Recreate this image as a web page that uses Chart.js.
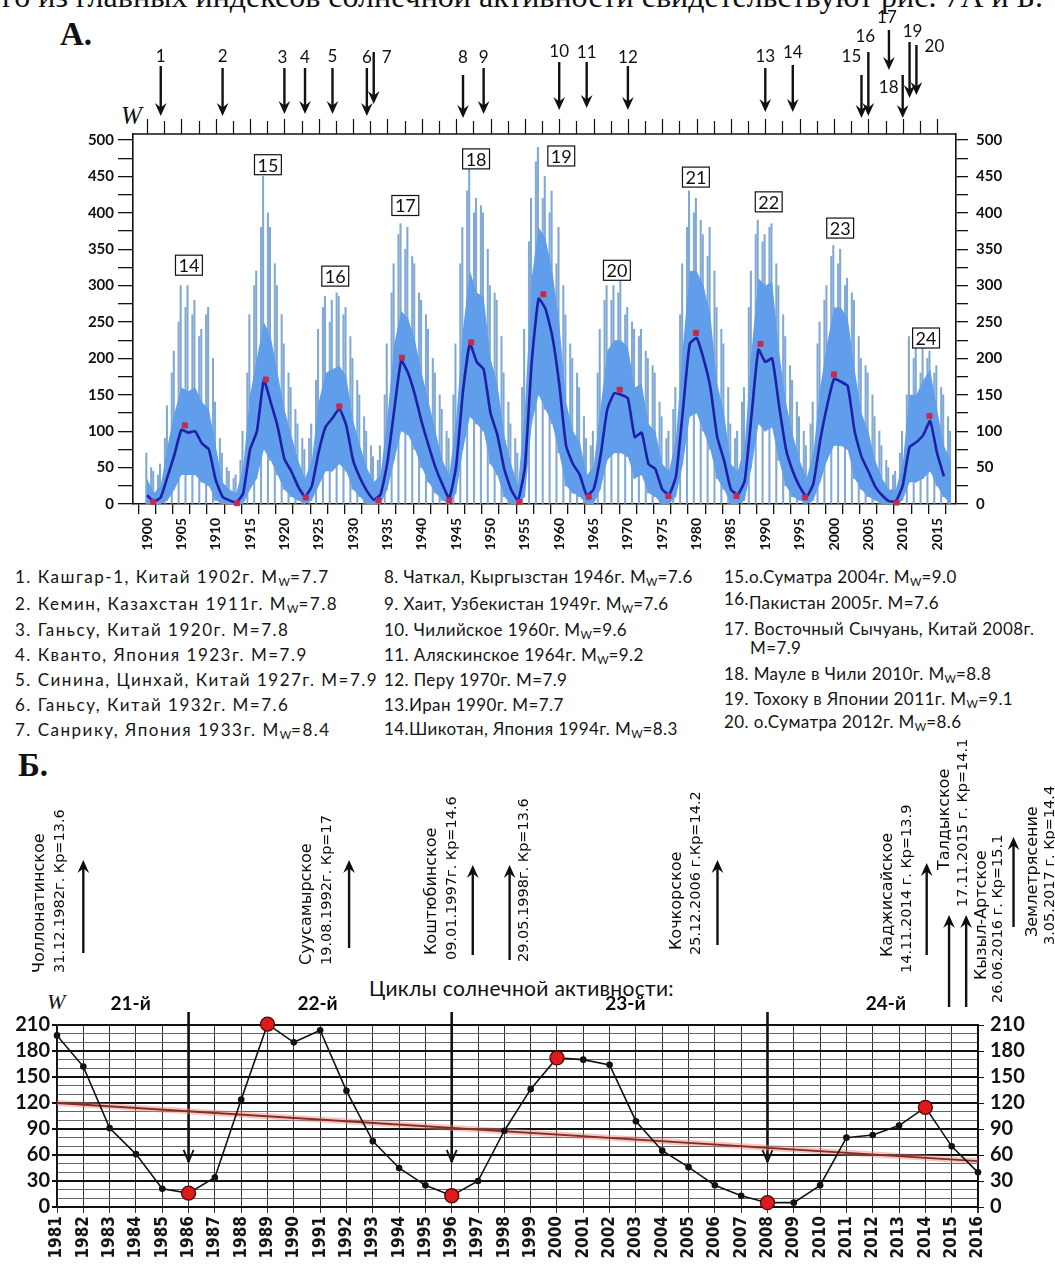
<!DOCTYPE html>
<html>
<head>
<meta charset="utf-8">
<script src="https://cdn.jsdelivr.net/npm/chart.js@4.4.0/dist/chart.umd.min.js"></script>
<style>
  body { margin: 0; background: #fff; }
  #page { position: relative; width: 1055px; height: 1264px; overflow: hidden; background: #fff; color: #111; }
  canvas { position: absolute; left: 0; }
  .txt { position: absolute; white-space: nowrap; }
  .serif { font-family: "Liberation Serif", "DejaVu Serif", serif; }
  .lg { position: absolute; white-space: nowrap; font-family: Lato, sans-serif; font-size: 17px; line-height: 22px; letter-spacing: 0.4px; color: #151515; }
  .lg.wide { letter-spacing: 1.5px; }
  .lg sub { font-size: 11px; vertical-align: -3px; line-height: 0; letter-spacing: 0; }
</style>
</head>
<body>
<div id="page">
  <div class="txt serif" style="left:2px; top:-22px; font-size:32px;">го из главных индексов солнечной активности свидетельствуют рис. 7А и Б.</div>
  <div class="txt serif" style="left:60px; top:16px; font-size:33px; font-weight:bold;">А.</div>
  <div class="txt serif" style="left:121px; top:102px; font-size:25px; font-style:italic;">W</div>
  <canvas id="chartA" width="1055" height="560" style="top:0"></canvas>
  <div id="legendA"></div>
  <div class="txt serif" style="left:18px; top:747px; font-size:33px; font-weight:bold;">Б.</div>
  <div class="txt serif" style="left:47px; top:989px; font-size:22px; font-style:italic;">W</div>
  <div class="txt" style="left:369px; top:975px; font-family:Lato, sans-serif; font-size:21px; letter-spacing:0.3px;">Циклы солнечной активности:</div>
  <canvas id="chartB" width="1055" height="524" style="top:740px"></canvas>
</div>
<script>
// ---------- panel A: sunspot number W, 1900-2017 ----------
const firstYearA = 1900
// smoothed W (dark blue line), one value per year
const smoothedW = [
  12, 3.5, 9, 38, 68, 102, 98, 100, 83, 75,
  33, 10, 5, 2, 15, 75, 100, 170, 140, 107,
  62, 45, 24, 10, 25, 72, 106, 118, 131, 108,
  60, 36, 18, 6, 13, 58, 130, 197, 180, 150,
  112, 80, 50, 27, 8, 52, 155, 220, 195, 185,
  125, 95, 48, 20, 5, 50, 195, 282, 268, 230,
  165, 80, 55, 40, 12, 20, 65, 130, 152, 150,
  145, 92, 98, 55, 48, 20, 13, 38, 128, 220,
  228, 200, 160, 92, 60, 20, 13, 32, 122, 212,
  195, 200, 135, 76, 45, 24, 10, 28, 88, 135,
  172, 168, 162, 100, 65, 45, 24, 12, 4, 4,
  25, 78, 85, 95, 114, 70, 38, null]
// lower and upper edge of the dense light-blue band
const bandLow = [
  0, 0, 0, 5, 20, 40, 40, 40, 30, 25,
  5, 0, 0, 0, 0, 20, 35, 75, 60, 40,
  20, 10, 5, 0, 5, 25, 45, 45, 55, 45,
  20, 10, 0, 0, 0, 20, 60, 100, 95, 75,
  50, 30, 15, 5, 0, 15, 75, 120, 110, 100,
  55, 40, 10, 0, 0, 10, 110, 150, 130, 110,
  70, 25, 15, 10, 0, 0, 20, 60, 70, 70,
  65, 35, 40, 15, 10, 0, 0, 10, 55, 120,
  125, 100, 75, 35, 20, 0, 0, 5, 50, 110,
  100, 105, 60, 25, 10, 5, 0, 5, 30, 60,
  80, 80, 75, 35, 20, 10, 5, 0, 0, 0,
  5, 30, 30, 35, 45, 25, 10, 0]
const bandHigh = [
  35, 15, 25, 80, 125, 160, 155, 160, 140, 130,
  80, 30, 20, 15, 50, 150, 200, 250, 230, 180,
  130, 95, 60, 35, 60, 140, 180, 185, 190, 175,
  115, 80, 50, 30, 40, 120, 220, 265, 255, 225,
  180, 140, 100, 60, 40, 115, 240, 320, 290, 285,
  200, 165, 95, 55, 25, 130, 310, 380, 365, 320,
  250, 140, 100, 85, 40, 50, 130, 210, 225, 225,
  215, 160, 165, 110, 100, 55, 45, 90, 215, 320,
  320, 300, 260, 165, 125, 55, 45, 80, 210, 310,
  300, 305, 210, 140, 95, 60, 35, 70, 160, 220,
  270, 270, 255, 185, 125, 100, 60, 35, 20, 20,
  55, 150, 150, 170, 185, 130, 80, 60]
// tallest spikes in the first half of each year
const spikeHigh = [
  70, 45, 55, 135, 210, 300, 300, 280, 240, 270,
  140, 70, 45, 40, 100, 260, 320, 450, 380, 300,
  220, 160, 110, 75, 110, 240, 285, 280, 285, 270,
  200, 150, 100, 65, 80, 220, 330, 385, 380, 330,
  280, 240, 180, 130, 90, 220, 380, 460, 420, 400,
  300, 280, 180, 110, 70, 240, 420, 490, 450, 430,
  380, 260, 200, 160, 90, 100, 240, 300, 300, 310,
  270, 240, 240, 200, 180, 120, 100, 160, 330, 430,
  420, 370, 380, 270, 220, 110, 100, 160, 320, 390,
  370, 385, 300, 230, 170, 120, 80, 140, 250, 300,
  355, 350, 310, 280, 200, 180, 120, 80, 50, 45,
  100, 230, 220, 230, 210, 190, 150, 100]
// tallest spikes in the second half of each year
const spikeLate = [
  50, 40, 90, 180, 250, 270, 260, 230, 260, 200,
  90, 50, 35, 60, 180, 300, 380, 400, 330, 260,
  180, 130, 90, 90, 170, 270, 250, 290, 260, 230,
  170, 120, 80, 60, 150, 290, 370, 350, 340, 290,
  260, 200, 150, 100, 150, 330, 430, 400, 410, 350,
  290, 230, 140, 90, 160, 360, 470, 420, 400, 330,
  300, 220, 180, 120, 80, 180, 280, 280, 290, 260,
  250, 230, 210, 190, 140, 90, 130, 260, 380, 400,
  390, 340, 320, 240, 160, 90, 140, 270, 370, 360,
  380, 330, 260, 190, 140, 100, 110, 220, 280, 340,
  330, 300, 290, 230, 190, 150, 100, 60, 40, 70,
  150, 200, 180, 200, 180, 160, 120, null]
// red squares: cycle minima and maxima
const extremaYears = [1900.9, 1905.5, 1913.1, 1917.3, 1923.1, 1928.0, 1933.7, 1937.1, 1944.0, 1947.2,
  1954.2, 1957.7, 1964.3, 1968.8, 1975.9, 1979.9, 1985.8, 1989.3, 1995.8, 2000.0, 2009.1, 2013.9]
const extremaW = [3, 108, 1, 171, 9, 134, 5, 201, 5, 222, 3, 288, 10, 157, 11, 235, 11, 220, 9, 178, 2, 121]
// cycle numbers and where their boxes sit
const cycleNumbers = ['14', '15', '16', '17', '18', '19', '20', '21', '22', '23', '24']
const cycleBoxYear = [1906.1, 1917.6, 1927.4, 1937.6, 1947.9, 1960.3, 1968.4, 1979.9, 1990.5, 2000.9, 2013.4]
const cycleBoxW = [328, 466, 313, 410, 474, 478, 321, 449, 415, 379, 228]
// earthquakes 1-20
const quakeYears = [1902, 1911, 1920, 1923, 1927, 1932, 1933, 1946, 1949, 1960,
  1964, 1970, 1990, 1994, 2004, 2005, 2008, 2010, 2011, 2012]
const quakeText = [
  '1. Кашгар-1, Китай 1902г. M_W=7.7', '2. Кемин, Казахстан 1911г. M_W=7.8', '3. Ганьсу, Китай 1920г. M=7.8',
  '4. Кванто, Япония 1923г. M=7.9', '5. Синина, Цинхай, Китай 1927г. M=7.9', '6.  Ганьсу, Китай 1932г. M=7.6',
  '7.  Санрику, Япония 1933г. M_W=8.4', '8. Чаткал, Кыргызстан 1946г. M_W=7.6', '9. Хаит, Узбекистан 1949г. M_W=7.6',
  '10. Чилийское 1960г. M_W=9.6', '11. Аляскинское 1964г. M_W=9.2', '12. Перу 1970г. M=7.9',
  '13.Иран 1990г. M=7.7', '14.Шикотан, Япония 1994г. M_W=8.3', '15.о.Суматра 2004г. M_W=9.0',
  '16.Пакистан 2005г. M=7.6', '17. Восточный Сычуань, Китай 2008г.|M=7.9', '18.  Мауле в Чили 2010г. M_W=8.8',
  '19.  Тохоку в Японии 2011г. M_W=9.1', '20.  о.Суматра 2012г. M_W=8.6']

// ---------- panel B: yearly W, 1981-2016 ----------
const yearsB = [1981, 1982, 1983, 1984, 1985, 1986, 1987, 1988, 1989, 1990, 1991, 1992,
  1993, 1994, 1995, 1996, 1997, 1998, 1999, 2000, 2001, 2002, 2003, 2004,
  2005, 2006, 2007, 2008, 2009, 2010, 2011, 2012, 2013, 2014, 2015, 2016]
const wolfB = [198, 162, 91, 61, 21, 16, 34, 124, 211, 190, 204, 134,
  76, 45, 25, 13, 30, 88, 136, 172, 170, 164, 99, 65,
  46, 25, 13, 5, 5, 25, 80, 83, 94, 115, 70, 40]
const extremaYearsB = [1986, 1989, 1996, 2000, 2008, 2014]
const trendYears = [1981, 2016]
const trendW = [120, 53]
const cycleBoundaryYears = [1986, 1996, 2008]
const cycleNamesB = ['21-й', '22-й', '23-й', '24-й']
const cycleNameYearB = [1983.8, 1990.9, 2002.6, 2012.5]
const eventYearB = [1982, 1992.1, 1996.8, 1998.2, 2006.1, 2014.05, 2014.9, 2015.55, 2017.35]
const eventNames = ['Чоллонатинское', 'Суусамырское', 'Коштюбинское', '', 'Кочкорское',
  'Каджисайское', 'Талдыкское', 'Кызыл-Артское', 'Землетрясение']
const eventDates = ['31.12.1982г. Кр=13.6', '19.08.1992г. Кр=17', '09.01.1997г. Кр=14.6', '29.05.1998г. Кр=13.6',
  '25.12.2006 г.Кр=14.2', '14.11.2014 г. Кр=13.9', '17.11.2015 г. Кр=14.1', '26.06.2016 г. Кр=15.1', '3.05.2017 г. Кр=14.4']

// ---------- layout (page pixels) ----------
// quake arrows: [label dx, label y, arrow top, arrow tip]
const quakeArrowLayout = [
  [0, 57, 66, 116], [0, 57, 68, 116], [-2, 58, 68, 114], [0, 58, 68, 114], [0, 57, 68, 114],
  [0, 58, 68, 116], [13, 58, 52, 104], [0, 58, 75, 118], [0, 58, 68, 114], [0, 52, 62, 110],
  [0, 53, 62, 108], [0, 58, 66, 110], [0, 57, 68, 112], [0, 53, 65, 112], [-10, 57, 75, 118],
  [-3, 37, 52, 116], [-2, 18, 30, 70], [-14, 88, 75, 118], [3, 32, 42, 98], [18, 47, 45, 95]]
// events of panel B: [name dx, date dx, name bottom, date bottom, arrow bottom, arrow top]
const eventLayout = [
  [-43, -23, 973, 973, 953, 860], [-42, -22, 965, 965, 948, 860], [-41, -21, 955, 960, 955, 865],
  [0, 15, 0, 962, 960, 865], [-41, -21, 950, 955, 945, 860], [-39, -19, 957, 973, 955, 863],
  [-4, 14, 870, 907, 1007, 915], [16, 32, 980, 1003, 1007, 915], [19, 37, 937, 945, 927, 837]]
const topB = 740

// legend of panel A
const legendCols = [[15, 0, 7], [384, 7, 14], [724, 14, 20]]
const legendRowsY = [
  [577, 604, 630, 655, 680, 705, 730],
  [577, 604, 630, 655, 680, 705, 729],
  [577, 603, 629, 674, 699, 722]]
function legendHtml(t) {
  return t.replace(/M_W/g, 'M<sub>W</sub>')
}
let html = ''
legendCols.forEach(([left, from, to], c) => {
  const cls = c === 0 ? 'lg wide' : 'lg'
  for (let i = from; i < to; i++) {
    const y = legendRowsY[c][i - from]
    const parts = quakeText[i].split('|')
    let first = legendHtml(parts[0])
    if (i === 15) first = first.replace('16.', '<span style="position:relative;top:-4px">16.</span>')
    html += `<div class="${cls}" style="left:${left}px;top:${y - 11}px">${first}</div>`
    if (parts[1]) html += `<div class="${cls}" style="left:${left + 26}px;top:${y + 8}px">${parts[1]}</div>`
  }
})
document.getElementById('legendA').innerHTML = html

function arrow(ctx, x, yFrom, yTo, head, width) {
  const dir = yTo > yFrom ? 1 : -1
  ctx.lineWidth = width
  ctx.beginPath()
  ctx.moveTo(x, yFrom)
  ctx.lineTo(x, yTo - dir * head * 0.6)
  ctx.stroke()
  ctx.beginPath()
  ctx.moveTo(x, yTo)
  ctx.lineTo(x - head * 0.45, yTo - dir * head)
  ctx.lineTo(x, yTo - dir * head * 0.65)
  ctx.lineTo(x + head * 0.45, yTo - dir * head)
  ctx.closePath()
  ctx.fill()
}

function vtext(ctx, text, x, yBottom, font) {
  ctx.save()
  ctx.translate(x, yBottom)
  ctx.rotate(-Math.PI / 2)
  ctx.font = font
  ctx.textAlign = 'left'
  ctx.textBaseline = 'middle'
  ctx.fillText(text, 0, 0)
  ctx.restore()
}

// top frame, top ticks, quake arrows and cycle boxes of panel A
const panelAOverlay = {
  id: 'panelAOverlay',
  afterDraw(chart) {
    const {ctx, chartArea, scales: {x, y}} = chart
    ctx.save()
    ctx.strokeStyle = '#111'
    ctx.fillStyle = '#111'
    ctx.lineWidth = 1.6
    ctx.beginPath()
    ctx.moveTo(chartArea.left, chartArea.top)
    ctx.lineTo(chartArea.right, chartArea.top)
    ctx.stroke()
    ctx.lineWidth = 1.2
    for (let t = 1900; t <= 2016; t += 2.5) {
      const px = Math.round(x.getPixelForValue(t)) + 0.5
      ctx.beginPath()
      ctx.moveTo(px, chartArea.top - (t % 5 === 0 ? 15 : 13))
      ctx.lineTo(px, chartArea.top)
      ctx.stroke()
    }
    ctx.font = '17px Lato'
    ctx.textAlign = 'center'
    ctx.textBaseline = 'middle'
    quakeYears.forEach((yr, i) => {
      const [dx, ly, top, tip] = quakeArrowLayout[i]
      const px = x.getPixelForValue(yr)
      arrow(ctx, px, top, tip, 13, 2.4)
      ctx.fillText(String(i + 1), px + dx, ly)
    })
    // cycle number boxes
    ctx.font = '18px Lato'
    cycleNumbers.forEach((n, i) => {
      const cx = x.getPixelForValue(cycleBoxYear[i])
      const cy = y.getPixelForValue(cycleBoxW[i])
      const w = ctx.measureText(n).width + 6
      const h = 20
      ctx.fillStyle = '#fff'
      ctx.fillRect(cx - w / 2, cy - h / 2, w, h)
      ctx.lineWidth = 1.2
      ctx.strokeRect(cx - w / 2, cy - h / 2, w, h)
      ctx.fillStyle = '#111'
      ctx.fillText(n, cx, cy + 1)
    })
    ctx.restore()
  }
}

const pointsA = arr => arr.map((v, i) => ({x: firstYearA + i, y: v}))

new Chart(document.getElementById('chartA'), {
  type: 'line',
  data: {
    datasets: [
      {
        type: 'scatter', data: extremaYears.map((yr, i) => ({x: yr, y: extremaW[i]})),
        pointStyle: 'rect', pointRadius: 3.5, backgroundColor: '#c42a4c', borderColor: '#c42a4c',
        clip: false, order: 0
      },
      {
        data: pointsA(smoothedW), borderColor: '#1e20a8', borderWidth: 2.6,
        pointRadius: 0, tension: 0.15, order: 1
      },
      {data: pointsA(bandLow), borderWidth: 0, pointRadius: 0, fill: false, order: 3},
      {
        data: pointsA(bandHigh), borderWidth: 0, pointRadius: 0, fill: '-1',
        backgroundColor: '#609deb', order: 2
      },
      {
        type: 'bar', data: spikeHigh.map((v, i) => ({x: firstYearA + i, y: [bandLow[i], v]})),
        backgroundColor: '#7ea8d6', barThickness: 1.4, order: 4
      },
      {
        type: 'bar', data: spikeLate.map((v, i) => ({x: firstYearA + i + 0.5, y: v === null ? null : [0, v]})),
        backgroundColor: '#82aad4', barThickness: 1.4, order: 5
      }
    ]
  },
  options: {
    responsive: false,
    animation: false,
    devicePixelRatio: 1,
    layout: {padding: {top: 134, left: 0, right: 0, bottom: 0}},
    plugins: {legend: {display: false}, tooltip: {enabled: false}},
    scales: {
      x: {
        type: 'linear', min: 1897.96, max: 2017.76, offset: false,
        grid: {drawOnChartArea: false, tickLength: 10, color: '#111', lineWidth: 1.3},
        border: {color: '#111', width: 1.6},
        ticks: {
          stepSize: 2.5, includeBounds: false, autoSkip: false, maxRotation: 90, minRotation: 90,
          padding: 4, color: '#111', font: {family: 'Lato', size: 14, weight: 'bold'},
          callback: v => (v % 5 === 0 ? String(v) : '')
        },
        afterFit: s => { s.height = 56 }
      },
      y: {
        position: 'left', min: 0, max: 508.2,
        grid: {drawOnChartArea: false, tickLength: 15, color: '#111', lineWidth: 1.3},
        border: {color: '#111', width: 1.6},
        ticks: {
          stepSize: 25, includeBounds: false, autoSkip: false, padding: 4, color: '#111',
          font: {family: 'Lato', size: 15, weight: 'bold'},
          callback: v => (v % 50 === 0 ? String(v) : '')
        },
        afterFit: s => { s.width = 133 }
      },
      y2: {
        position: 'right', min: 0, max: 508.2,
        grid: {drawOnChartArea: false, tickLength: 12, color: '#111', lineWidth: 1.3},
        border: {color: '#111', width: 1.6},
        ticks: {
          stepSize: 25, includeBounds: false, autoSkip: false, padding: 8, color: '#111',
          font: {family: 'Lato', size: 15, weight: 'bold'},
          callback: v => (v % 50 === 0 ? String(v) : '')
        },
        afterFit: s => { s.width = 99 }
      }
    }
  },
  plugins: [panelAOverlay]
})

// cycle boundaries, event arrows and texts of panel B
const panelBOverlay = {
  id: 'panelBOverlay',
  beforeDatasetsDraw(chart) {
    const {ctx, scales: {x, y}} = chart
    ctx.save()
    ctx.strokeStyle = '#111'
    ctx.fillStyle = '#111'
    cycleBoundaryYears.forEach(yr => {
      const px = x.getPixelForValue(yr)
      const tip = y.getPixelForValue(52)
      ctx.lineWidth = 2.6
      ctx.beginPath()
      ctx.moveTo(px, 1012 - topB)
      ctx.lineTo(px, tip)
      ctx.stroke()
      ctx.lineWidth = 1.8
      ctx.beginPath()
      ctx.moveTo(px - 5, tip - 12)
      ctx.lineTo(px, tip)
      ctx.lineTo(px + 5, tip - 12)
      ctx.stroke()
    })
    ctx.restore()
  },
  afterDraw(chart) {
    const {ctx, scales: {x}} = chart
    ctx.save()
    ctx.strokeStyle = '#111'
    ctx.fillStyle = '#0c0c0c'
    eventYearB.forEach((yr, i) => {
      const [ndx, ddx, nb, db, ab, at] = eventLayout[i]
      const px = x.getPixelForValue(yr)
      arrow(ctx, px, ab - topB, at - topB, 13, 2.4)
      if (eventNames[i]) vtext(ctx, eventNames[i], px + ndx, nb - topB, '16px "DejaVu Sans"')
      vtext(ctx, eventDates[i], px + ddx, db - topB, '14.5px "DejaVu Sans"')
    })
    ctx.font = 'bold 19px Lato'
    ctx.textAlign = 'center'
    ctx.textBaseline = 'middle'
    cycleNamesB.forEach((n, i) => {
      ctx.fillText(n, x.getPixelForValue(cycleNameYearB[i]), 1004 - topB)
    })
    ctx.restore()
  }
}

new Chart(document.getElementById('chartB'), {
  type: 'line',
  data: {
    datasets: [
      {
        type: 'scatter', data: extremaYearsB.map(yr => ({x: yr, y: wolfB[yearsB.indexOf(yr)]})),
        pointRadius: 7, backgroundColor: '#e01a1a', borderColor: '#4a0808', borderWidth: 1.3,
        clip: false, order: 0
      },
      {
        data: yearsB.map((yr, i) => ({x: yr, y: wolfB[i]})), borderColor: '#111', borderWidth: 1.6,
        pointRadius: yearsB.map(yr => (extremaYearsB.includes(yr) ? 0 : 3.3)),
        pointBackgroundColor: '#111', pointBorderWidth: 0, tension: 0, clip: false, order: 1
      },
      {
        data: trendYears.map((yr, i) => ({x: yr, y: trendW[i]})), borderColor: '#8c2a22',
        borderWidth: 1.8, pointRadius: 0, order: 2
      },
      {
        data: trendYears.map((yr, i) => ({x: yr, y: trendW[i]})), borderColor: 'rgba(225,135,125,0.45)',
        borderWidth: 6, pointRadius: 0, order: 3
      }
    ]
  },
  options: {
    responsive: false,
    animation: false,
    devicePixelRatio: 1,
    layout: {padding: {top: 285, left: 0, right: 0, bottom: 0}},
    plugins: {legend: {display: false}, tooltip: {enabled: false}},
    scales: {
      x: {
        type: 'linear', min: 1981, max: 2016, offset: false,
        grid: {tickLength: 6, color: '#333', lineWidth: c => (c.tick && c.tick.value === 2016 ? 2 : 1)},
        border: {color: '#111', width: 1.5},
        ticks: {
          stepSize: 1, autoSkip: false, maxRotation: 90, minRotation: 90, padding: 3, color: '#151515',
          font: {family: '"DejaVu Sans Condensed", "DejaVu Sans"', size: 17, weight: 'bold'},
          callback: v => String(v)
        },
        afterFit: s => { s.height = 57 }
      },
      y: {
        position: 'left', min: 0, max: 210,
        grid: {
          tickLength: 5,
          color: c => (c.tick && c.tick.value % 30 === 0 ? '#111' : '#666'),
          lineWidth: c => (c.tick && c.tick.value % 30 === 0 ? 2 : 1),
          tickColor: c => (c.tick && c.tick.value % 30 === 0 ? '#111' : 'rgba(0,0,0,0)')
        },
        border: {color: '#111', width: 1.5},
        ticks: {
          stepSize: 10, autoSkip: false, padding: 2, color: '#111',
          font: {family: 'Lato', size: 20, weight: 'bold'},
          callback: v => (v % 30 === 0 ? String(v) : '')
        },
        afterFit: s => { s.width = 57 }
      },
      y2: {
        position: 'right', min: 0, max: 210,
        grid: {
          drawOnChartArea: false, tickLength: 6,
          tickColor: c => (c.tick && c.tick.value % 30 === 0 ? '#111' : 'rgba(0,0,0,0)')
        },
        border: {color: '#111', width: 2},
        ticks: {
          stepSize: 10, autoSkip: false, padding: 6, color: '#111',
          font: {family: 'Lato', size: 20, weight: 'bold'},
          callback: v => (v % 30 === 0 ? String(v) : '')
        },
        afterFit: s => { s.width = 77 }
      }
    }
  },
  plugins: [panelBOverlay]
})
</script>
</body>
</html>
